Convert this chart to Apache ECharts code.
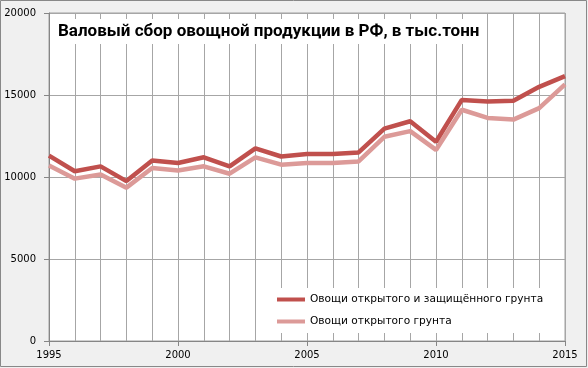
<!DOCTYPE html>
<html>
<head>
<meta charset="utf-8">
<script src="https://cdn.jsdelivr.net/npm/echarts@6/dist/echarts.min.js"></script>
<style>html,body{margin:0;padding:0;background:#fff}#c{width:588px;height:368px}</style>
</head>
<body>
<div id="c"></div>
<script>
var years = [1995,1996,1997,1998,1999,2000,2001,2002,2003,2004,2005,2006,2007,2008,2009,2010,2011,2012,2013,2014,2015];
var totalVeg = [11300,10350,10650,9750,11000,10850,11200,10650,11750,11250,11400,11400,11500,12950,13400,12150,14700,14600,14650,15500,16150];
var openVeg = [10700,9900,10150,9350,10550,10400,10650,10200,11200,10750,10850,10850,10950,12450,12800,11650,14100,13600,13500,14200,15650];
var seriesNames = ['Овощи открытого и защищённого грунта', 'Овощи открытого грунта'];
var titleText = 'Валовый сбор овощной продукции в РФ, в тыс.тонн';

function pairs(vals){ return years.map(function(y,i){ return [y, vals[i]]; }); }

var chart = echarts.init(document.getElementById('c'), null, {renderer:'canvas'});
var labelFont = {fontFamily:'DejaVu Sans', fontSize:10, color:'#000'};
chart.setOption({
  backgroundColor:'#f0f0f0',
  animation:false,
  graphic:[{type:'rect', shape:{x:0.5,y:0.5,width:586,height:366}, style:{fill:'none', stroke:'#888', lineWidth:1}, z:-10}],
  title:{
    text:titleText, left:53, top:19, padding:[4,5],
    backgroundColor:'#fff',
    textStyle:{fontFamily:'Roboto', fontWeight:'bold', fontSize:17, color:'#000'}
  },
  legend:{
    orient:'vertical', left:274, top:288, padding:[5,8,5,3],
    backgroundColor:'#fff', itemWidth:28, itemHeight:4, itemGap:9, icon:'rect',
    textStyle:{fontFamily:'DejaVu Sans', fontSize:10.6, color:'#000', lineHeight:13},
    data:seriesNames
  },
  grid:{left:49, right:23, top:13, bottom:27, show:true, backgroundColor:'#fff', borderColor:'#a0a0a0', borderWidth:1},
  xAxis:{
    type:'value', min:1995, max:2015, interval:5,
    axisLine:{lineStyle:{color:'#868686'}},
    axisTick:{show:true, length:5, lineStyle:{color:'#868686'}},
    axisLabel:Object.assign({margin:9, formatter:function(v){return String(v);}}, labelFont),
    splitLine:{show:true, lineStyle:{color:'#a6a6a6'}},
    minorTick:{show:false, splitNumber:5},
    minorSplitLine:{show:true, lineStyle:{color:'#a6a6a6'}}
  },
  yAxis:{
    type:'value', min:0, max:20000, interval:5000,
    axisLine:{show:true, lineStyle:{color:'#868686'}},
    axisTick:{show:true, length:5, lineStyle:{color:'#868686'}},
    axisLabel:Object.assign({margin:13, formatter:function(v){return String(v);}}, labelFont),
    splitLine:{show:true, lineStyle:{color:'#a6a6a6'}}
  },
  series:[
    {name:seriesNames[0], type:'line', data:pairs(totalVeg), symbol:'none', color:'#c0504d', lineStyle:{width:4.5, color:'#c0504d'}, z:3},
    {name:seriesNames[1], type:'line', data:pairs(openVeg), symbol:'none', color:'#dc9a98', lineStyle:{width:4.5, color:'#dc9a98'}, z:2}
  ]
});
</script>
</body>
</html>
